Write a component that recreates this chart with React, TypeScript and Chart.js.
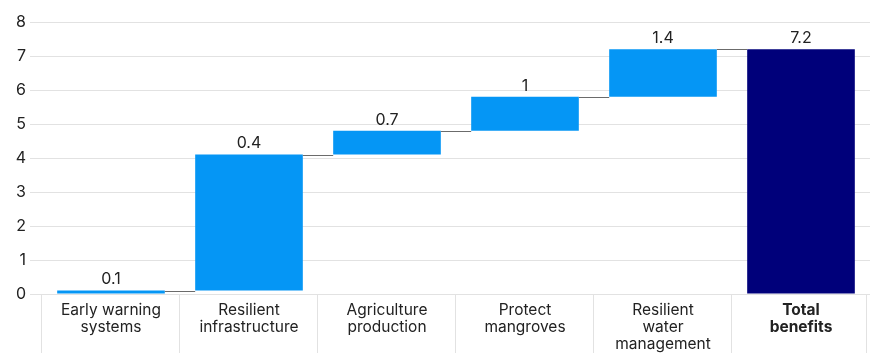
import { useEffect, useRef } from "react";
import { Chart, registerables } from "chart.js";

Chart.register(...registerables);

// Benefit categories (multi-line axis labels)
const categories: string[][] = [
  ["Early warning", "systems"],
  ["Resilient", "infrastructure"],
  ["Agriculture", "production"],
  ["Protect", "mangroves"],
  ["Resilient", "water", "management"],
  ["Total", "benefits"],
];

// Step increments for each measure, and the overall total
const increments: number[] = [0.1, 4.0, 0.7, 1.0, 1.4];
const totalValue = 7.2;

// Labels printed above each bar
const valueLabels: string[] = ["0.1", "0.4", "0.7", "1", "1.4", "7.2"];

// Value axis range
const yMin = 0;
const yMax = 8;
const yStep = 1;

const STEP_BLUE = "#0596F5";
const TOTAL_NAVY = "#00007A";
const TEXT = "#222222";
const GRID = "#e2e2e2";
const FONT = "Inter, 'Noto Sans', Arial, sans-serif";

// Floating [start, end] ranges for a waterfall
function buildRanges(): [number, number][] {
  const ranges: [number, number][] = [];
  let running = 0;
  for (const inc of increments) {
    const start = running;
    running = Math.round((running + inc) * 1000) / 1000;
    ranges.push([start, running]);
  }
  ranges.push([0, totalValue]);
  return ranges;
}

const waterfallDecor = {
  id: "waterfallDecor",
  afterDatasetsDraw(chart: any) {
    const { ctx, chartArea, scales } = chart;
    const xScale = scales.x;
    const yScale = scales.y;
    const meta = chart.getDatasetMeta(0);
    const ranges: [number, number][] = chart.data.datasets[0].data;

    ctx.save();

    // Connector lines between consecutive bars
    ctx.strokeStyle = "#6b6b6b";
    ctx.lineWidth = 1;
    for (let i = 0; i < meta.data.length - 1; i++) {
      const a = meta.data[i];
      const b = meta.data[i + 1];
      const level = ranges[i][1];
      const y = Math.round(yScale.getPixelForValue(level)) + 0.5;
      ctx.beginPath();
      ctx.moveTo(a.x + a.width / 2, y);
      ctx.lineTo(b.x - b.width / 2, y);
      ctx.stroke();
    }

    // Value labels above bars
    ctx.fillStyle = TEXT;
    ctx.font = `16px ${FONT}`;
    ctx.textAlign = "center";
    ctx.textBaseline = "bottom";
    meta.data.forEach((bar: any, i: number) => {
      const top = yScale.getPixelForValue(Math.max(ranges[i][0], ranges[i][1]));
      ctx.fillText(valueLabels[i], bar.x, top - 3);
    });

    // Category separators below the axis
    ctx.strokeStyle = GRID;
    const n = categories.length;
    for (let i = 0; i <= n; i++) {
      let x: number;
      if (i === 0) x = chartArea.left;
      else if (i === n) x = chartArea.right - 3;
      else x = (xScale.getPixelForValue(i - 1) + xScale.getPixelForValue(i)) / 2;
      x = Math.round(x) - 0.5;
      ctx.beginPath();
      ctx.moveTo(x, chartArea.bottom);
      ctx.lineTo(x, chart.height);
      ctx.stroke();
    }

    ctx.restore();
  },
};

export default function App() {
  const canvasRef = useRef<HTMLCanvasElement | null>(null);

  useEffect(() => {
    document.body.style.margin = "0";
    const canvas = canvasRef.current;
    if (!canvas) return;
    const ranges = buildRanges();
    const colors = ranges.map((_, i) => (i === ranges.length - 1 ? TOTAL_NAVY : STEP_BLUE));

    const chart = new Chart(canvas, {
      type: "bar",
      data: {
        labels: categories,
        datasets: [
          {
            data: ranges as any,
            backgroundColor: colors,
            borderWidth: 0,
            borderSkipped: false,
            barPercentage: 0.78,
            categoryPercentage: 1,
          },
        ],
      },
      options: {
        responsive: false,
        animation: false,
        layout: { padding: { top: 22, right: 0, left: 0, bottom: 0 } },
        plugins: {
          legend: { display: false },
          tooltip: { enabled: false },
        },
        scales: {
          x: {
            grid: { display: false },
            border: { display: false },
            ticks: {
              color: TEXT,
              padding: 0,
              autoSkip: false,
              maxRotation: 0,
              font: (c: any) => ({
                family: FONT,
                size: 15.5,
                lineHeight: 1.1,
                weight: c.index === categories.length - 1 ? "bold" : "normal",
              }),
            },
            afterFit: (scale: any) => {
              scale.height = 59;
            },
          },
          y: {
            min: yMin,
            max: yMax,
            grid: {
              color: GRID,
              tickColor: GRID,
              drawTicks: true,
              tickLength: 12,
            },
            border: { display: false },
            ticks: {
              stepSize: yStep,
              color: TEXT,
              padding: 4,
              font: { family: FONT, size: 16 },
            },
            afterFit: (scale: any) => {
              scale.width = 42;
            },
          },
        },
      },
      plugins: [waterfallDecor],
    });

    return () => chart.destroy();
  }, []);

  return (
    <div style={{ position: "absolute", left: 0, top: 0, width: 870, height: 353 }}>
      <canvas ref={canvasRef} width={870} height={353} />
    </div>
  );
}
